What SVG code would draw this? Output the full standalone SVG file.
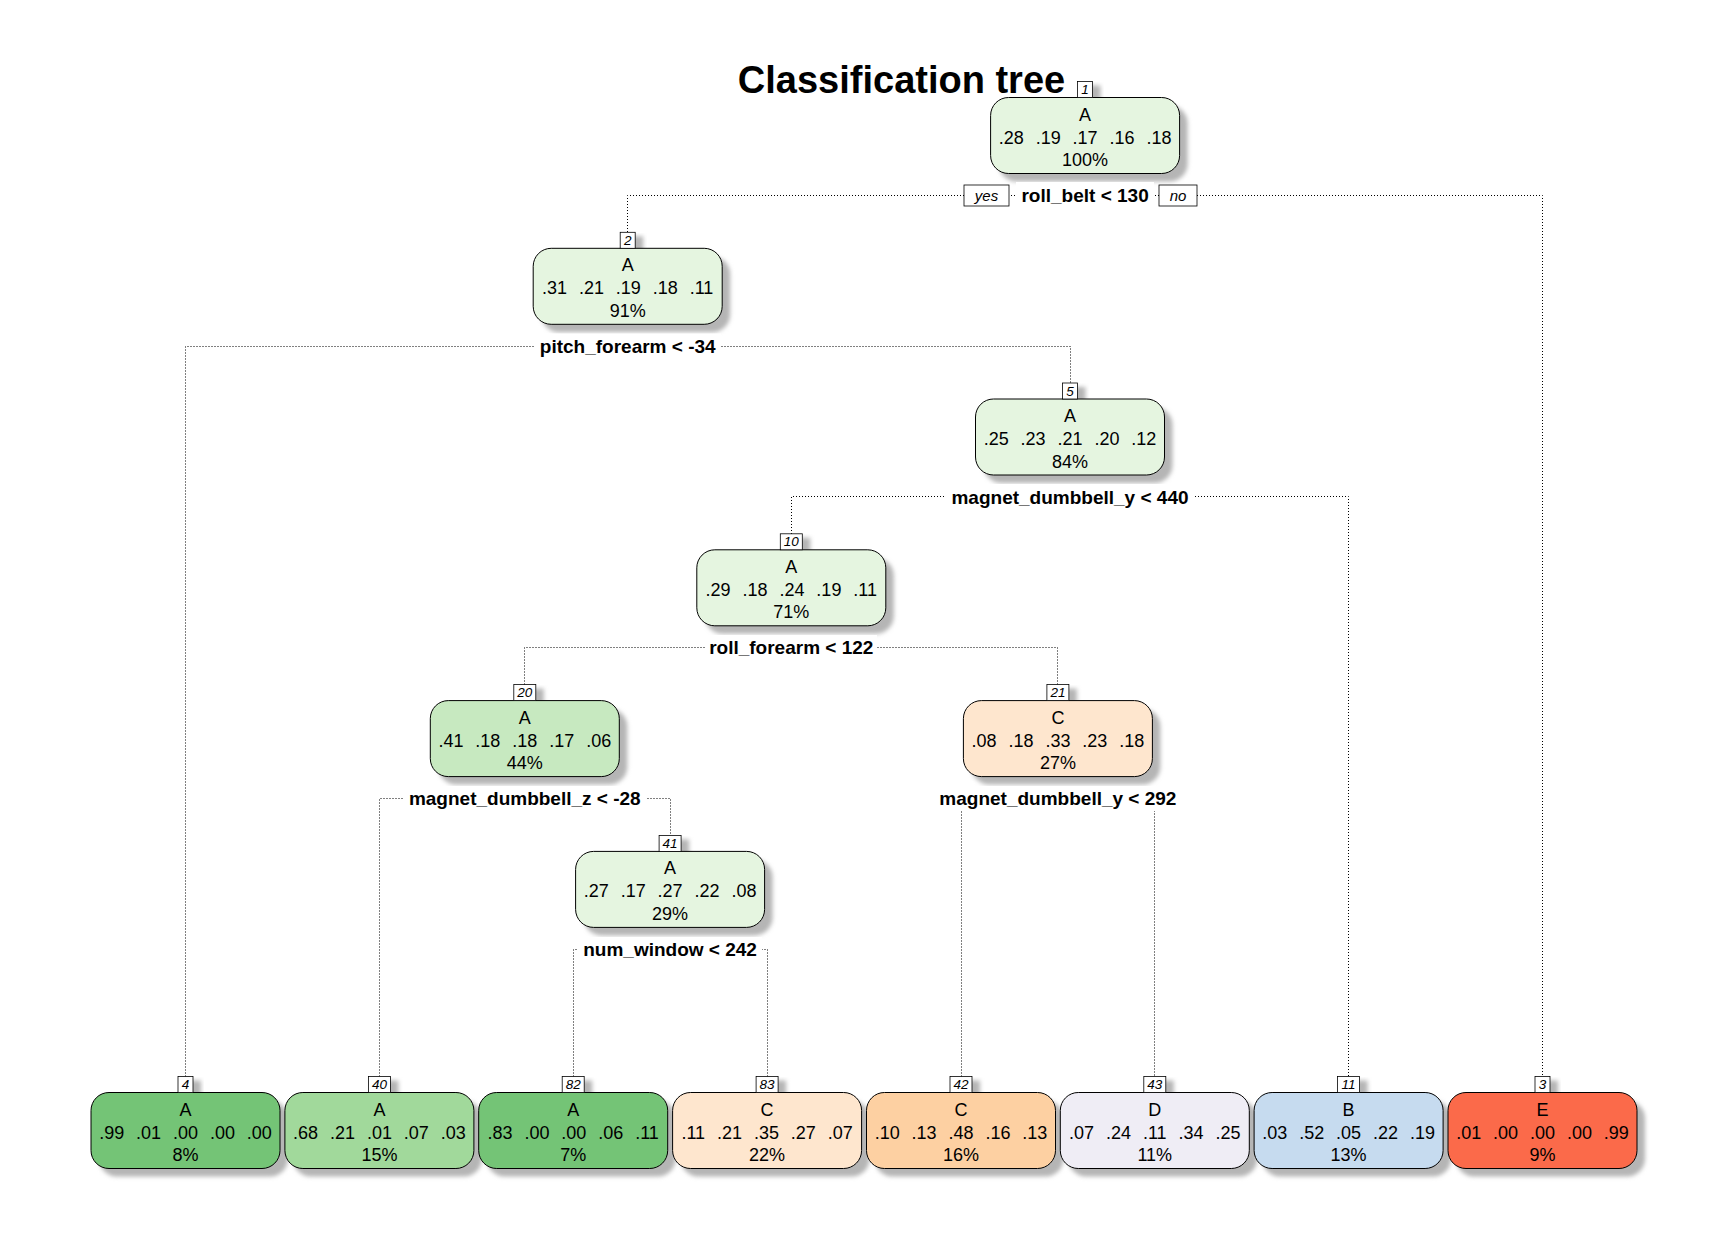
<svg xmlns="http://www.w3.org/2000/svg" width="1728" height="1248" viewBox="0 0 1728 1248">
<defs>
<filter id="blur" x="-20%" y="-20%" width="140%" height="140%"><feGaussianBlur stdDeviation="2"/></filter>
<style>
.bg{fill:#fff}
.box{stroke:#000;stroke-width:1}
.sh{fill:#b5b5b5;filter:url(#blur)}
text{font-family:"Liberation Sans",Arial,sans-serif;fill:#000;text-anchor:middle}
.t{font-size:18px}
.p{word-spacing:6.9px}
.lb{fill:#fff;stroke:#000;stroke-width:0.8}
.lt{font-size:13.5px;font-style:italic}
.sb{fill:#fff}
.st{font-size:19px;font-weight:bold}
.yn{font-size:15px;font-style:italic}
.conn{fill:none;stroke:#000;stroke-width:1;stroke-dasharray:1 2}
.g1{fill:#e5f5e0}.g2{fill:#c7e9c0}.g3{fill:#a1d99b}.g4{fill:#74c476}
.o1{fill:#fee6ce}.o2{fill:#fdd0a2}.pu{fill:#efedf5}.bl{fill:#c6dbef}.re{fill:#fb6a4a}
</style>
</defs>
<rect class="bg" width="1728" height="1248"/>
<text x="901.5" y="93" style="font-size:38px;font-weight:bold">Classification tree</text>

<g id="connectors">
<path class="conn" d="M627.5,232 V195.5 H1542.5 V1076.5"/>
<path class="conn" d="M185.5,1076.5 V346.5 H1070.5 V383"/>
<path class="conn" d="M791.5,534 V496.5 H1348.5 V1076.5"/>
<path class="conn" d="M524.5,684.5 V647.5 H1057.5 V684.5"/>
<path class="conn" d="M379.5,1076.5 V798.5 H670.5 V835.5"/>
<path class="conn" d="M961.5,1076.5 V798.5 H1154.5 V1076.5"/>
<path class="conn" d="M573.5,1076.5 V949.5 H767.5 V1076.5"/>
</g>

<g id="node-1">
<rect class="sh" x="1085.5" y="85.5" width="15" height="16"/>
<rect class="sh" x="998.6" y="105.5" width="189" height="76" rx="18"/>
<rect class="box g1" x="990.6" y="97.5" width="189" height="76" rx="18"/>
<rect class="lb" x="1077.6" y="81.5" width="15" height="16"/>
<text class="lt" x="1085.1" y="94">1</text>
<text class="t" x="1085.1" y="120.5">A</text>
<text class="t p" x="1085.1" y="143.5">.28 .19 .17 .16 .18</text>
<text class="t" x="1085.1" y="166">100%</text>
<rect class="sb" x="1016" y="182" width="138" height="25"/>
<text class="st" x="1085.1" y="202">roll_belt &lt; 130</text>
<rect class="lb" x="964" y="185" width="45" height="21"/>
<text class="yn" x="986.5" y="201">yes</text>
<rect class="lb" x="1159" y="185" width="38" height="21"/>
<text class="yn" x="1178" y="201">no</text>
</g>

<g id="node-2">
<rect class="sh" x="628.2" y="236.3" width="15" height="16"/>
<rect class="sh" x="541.2" y="256.3" width="189" height="76" rx="18"/>
<rect class="box g1" x="533.2" y="248.3" width="189" height="76" rx="18"/>
<rect class="lb" x="620.2" y="232.3" width="15" height="16"/>
<text class="lt" x="627.7" y="244.8">2</text>
<text class="t" x="627.7" y="271.3">A</text>
<text class="t p" x="627.7" y="294.3">.31 .21 .19 .18 .11</text>
<text class="t" x="627.7" y="316.8">91%</text>
<rect class="sb" x="535" y="333.5" width="186" height="25"/>
<text class="st" x="627.7" y="353">pitch_forearm &lt; -34</text>
</g>

<g id="node-5">
<rect class="sh" x="1070.5" y="387" width="15" height="16"/>
<rect class="sh" x="983.5" y="407" width="189" height="76" rx="18"/>
<rect class="box g1" x="975.5" y="399" width="189" height="76" rx="18"/>
<rect class="lb" x="1062.5" y="383" width="15" height="16"/>
<text class="lt" x="1070" y="395.5">5</text>
<text class="t" x="1070" y="422">A</text>
<text class="t p" x="1070" y="445">.25 .23 .21 .20 .12</text>
<text class="t" x="1070" y="467.5">84%</text>
<rect class="sb" x="945" y="484" width="250" height="25"/>
<text class="st" x="1070" y="503.5">magnet_dumbbell_y &lt; 440</text>
</g>

<g id="node-10">
<rect class="sh" x="788.3" y="537.8" width="22" height="16"/>
<rect class="sh" x="704.8" y="557.8" width="189" height="76" rx="18"/>
<rect class="box g1" x="696.8" y="549.8" width="189" height="76" rx="18"/>
<rect class="lb" x="780.3" y="533.8" width="22" height="16"/>
<text class="lt" x="791.3" y="546.3">10</text>
<text class="t" x="791.3" y="572.8">A</text>
<text class="t p" x="791.3" y="595.8">.29 .18 .24 .19 .11</text>
<text class="t" x="791.3" y="618.3">71%</text>
<rect class="sb" x="705" y="635" width="172" height="25"/>
<text class="st" x="791.3" y="654.3">roll_forearm &lt; 122</text>
</g>

<g id="node-20">
<rect class="sh" x="521.8" y="688.6" width="22" height="16"/>
<rect class="sh" x="438.3" y="708.6" width="189" height="76" rx="18"/>
<rect class="box g2" x="430.3" y="700.6" width="189" height="76" rx="18"/>
<rect class="lb" x="513.8" y="684.6" width="22" height="16"/>
<text class="lt" x="524.8" y="697.1">20</text>
<text class="t" x="524.8" y="723.6">A</text>
<text class="t p" x="524.8" y="746.6">.41 .18 .18 .17 .06</text>
<text class="t" x="524.8" y="769.1">44%</text>
<rect class="sb" x="403" y="786" width="244" height="25"/>
<text class="st" x="524.8" y="805">magnet_dumbbell_z &lt; -28</text>
</g>

<g id="node-21">
<rect class="sh" x="1054.9" y="688.6" width="22" height="16"/>
<rect class="sh" x="971.4" y="708.6" width="189" height="76" rx="18"/>
<rect class="box o1" x="963.4" y="700.6" width="189" height="76" rx="18"/>
<rect class="lb" x="1046.9" y="684.6" width="22" height="16"/>
<text class="lt" x="1057.9" y="697.1">21</text>
<text class="t" x="1057.9" y="723.6">C</text>
<text class="t p" x="1057.9" y="746.6">.08 .18 .33 .23 .18</text>
<text class="t" x="1057.9" y="769.1">27%</text>
<rect class="sb" x="933" y="786" width="250" height="25"/>
<text class="st" x="1057.9" y="805">magnet_dumbbell_y &lt; 292</text>
</g>

<g id="node-41">
<rect class="sh" x="667.1" y="839.4" width="22" height="16"/>
<rect class="sh" x="583.6" y="859.4" width="189" height="76" rx="18"/>
<rect class="box g1" x="575.6" y="851.4" width="189" height="76" rx="18"/>
<rect class="lb" x="659.1" y="835.4" width="22" height="16"/>
<text class="lt" x="670.1" y="847.9">41</text>
<text class="t" x="670.1" y="874.4">A</text>
<text class="t p" x="670.1" y="897.4">.27 .17 .27 .22 .08</text>
<text class="t" x="670.1" y="919.9">29%</text>
<rect class="sb" x="578" y="937" width="184" height="25"/>
<text class="st" x="670.1" y="956">num_window &lt; 242</text>
</g>

<g id="node-4">
<rect class="sh" x="186" y="1080.5" width="15" height="16"/>
<rect class="sh" x="99" y="1100.5" width="189" height="76" rx="18"/>
<rect class="box g4" x="91" y="1092.5" width="189" height="76" rx="18"/>
<rect class="lb" x="178" y="1076.5" width="15" height="16"/>
<text class="lt" x="185.5" y="1089">4</text>
<text class="t" x="185.5" y="1115.5">A</text>
<text class="t p" x="185.5" y="1138.5">.99 .01 .00 .00 .00</text>
<text class="t" x="185.5" y="1161">8%</text>
</g>

<g id="node-40">
<rect class="sh" x="376.4" y="1080.5" width="22" height="16"/>
<rect class="sh" x="292.9" y="1100.5" width="189" height="76" rx="18"/>
<rect class="box g3" x="284.9" y="1092.5" width="189" height="76" rx="18"/>
<rect class="lb" x="368.4" y="1076.5" width="22" height="16"/>
<text class="lt" x="379.4" y="1089">40</text>
<text class="t" x="379.4" y="1115.5">A</text>
<text class="t p" x="379.4" y="1138.5">.68 .21 .01 .07 .03</text>
<text class="t" x="379.4" y="1161">15%</text>
</g>

<g id="node-82">
<rect class="sh" x="570.2" y="1080.5" width="22" height="16"/>
<rect class="sh" x="486.7" y="1100.5" width="189" height="76" rx="18"/>
<rect class="box g4" x="478.7" y="1092.5" width="189" height="76" rx="18"/>
<rect class="lb" x="562.2" y="1076.5" width="22" height="16"/>
<text class="lt" x="573.2" y="1089">82</text>
<text class="t" x="573.2" y="1115.5">A</text>
<text class="t p" x="573.2" y="1138.5">.83 .00 .00 .06 .11</text>
<text class="t" x="573.2" y="1161">7%</text>
</g>

<g id="node-83">
<rect class="sh" x="764.1" y="1080.5" width="22" height="16"/>
<rect class="sh" x="680.6" y="1100.5" width="189" height="76" rx="18"/>
<rect class="box o1" x="672.6" y="1092.5" width="189" height="76" rx="18"/>
<rect class="lb" x="756.1" y="1076.5" width="22" height="16"/>
<text class="lt" x="767.1" y="1089">83</text>
<text class="t" x="767.1" y="1115.5">C</text>
<text class="t p" x="767.1" y="1138.5">.11 .21 .35 .27 .07</text>
<text class="t" x="767.1" y="1161">22%</text>
</g>

<g id="node-42">
<rect class="sh" x="958" y="1080.5" width="22" height="16"/>
<rect class="sh" x="874.5" y="1100.5" width="189" height="76" rx="18"/>
<rect class="box o2" x="866.5" y="1092.5" width="189" height="76" rx="18"/>
<rect class="lb" x="950" y="1076.5" width="22" height="16"/>
<text class="lt" x="961" y="1089">42</text>
<text class="t" x="961" y="1115.5">C</text>
<text class="t p" x="961" y="1138.5">.10 .13 .48 .16 .13</text>
<text class="t" x="961" y="1161">16%</text>
</g>

<g id="node-43">
<rect class="sh" x="1151.8" y="1080.5" width="22" height="16"/>
<rect class="sh" x="1068.3" y="1100.5" width="189" height="76" rx="18"/>
<rect class="box pu" x="1060.3" y="1092.5" width="189" height="76" rx="18"/>
<rect class="lb" x="1143.8" y="1076.5" width="22" height="16"/>
<text class="lt" x="1154.8" y="1089">43</text>
<text class="t" x="1154.8" y="1115.5">D</text>
<text class="t p" x="1154.8" y="1138.5">.07 .24 .11 .34 .25</text>
<text class="t" x="1154.8" y="1161">11%</text>
</g>

<g id="node-11">
<rect class="sh" x="1345.6" y="1080.5" width="22" height="16"/>
<rect class="sh" x="1262.1" y="1100.5" width="189" height="76" rx="18"/>
<rect class="box bl" x="1254.1" y="1092.5" width="189" height="76" rx="18"/>
<rect class="lb" x="1337.6" y="1076.5" width="22" height="16"/>
<text class="lt" x="1348.6" y="1089">11</text>
<text class="t" x="1348.6" y="1115.5">B</text>
<text class="t p" x="1348.6" y="1138.5">.03 .52 .05 .22 .19</text>
<text class="t" x="1348.6" y="1161">13%</text>
</g>

<g id="node-3">
<rect class="sh" x="1543" y="1080.5" width="15" height="16"/>
<rect class="sh" x="1456" y="1100.5" width="189" height="76" rx="18"/>
<rect class="box re" x="1448" y="1092.5" width="189" height="76" rx="18"/>
<rect class="lb" x="1535" y="1076.5" width="15" height="16"/>
<text class="lt" x="1542.5" y="1089">3</text>
<text class="t" x="1542.5" y="1115.5">E</text>
<text class="t p" x="1542.5" y="1139">.01 .00 .00 .00 .99</text>
<text class="t" x="1542.5" y="1161">9%</text>
</g>
</svg>
